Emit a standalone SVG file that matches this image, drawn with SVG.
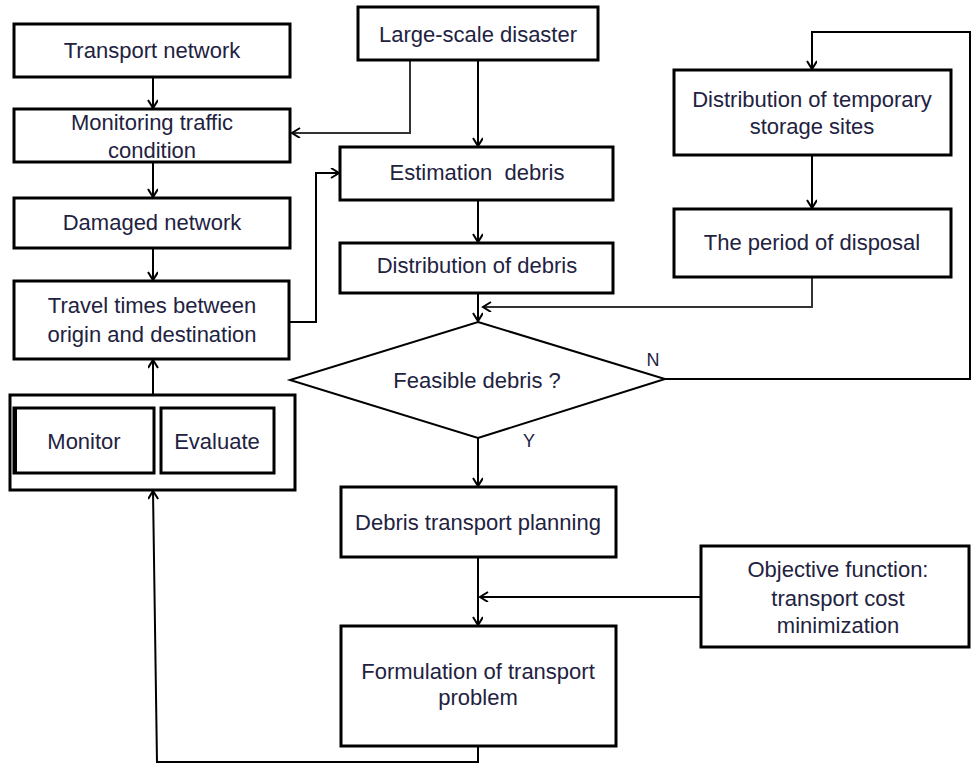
<svg xmlns="http://www.w3.org/2000/svg" width="972" height="764" viewBox="0 0 972 764">
<style>
.box{fill:#fff;stroke:#000;stroke-width:3}
.dia{fill:#fff;stroke:#000;stroke-width:2}
.t{font-family:"Liberation Sans",Arial,sans-serif;font-size:22px;fill:#22223f;text-anchor:middle}
.c{fill:none;stroke:#000;stroke-width:2;marker-end:url(#a)}
.g{stroke:#333}
</style>
<defs>
<marker id="a" markerWidth="12" markerHeight="12" refX="9" refY="5" orient="auto" markerUnits="userSpaceOnUse">
<path d="M1,0 L9,5 L1,10" fill="none" stroke="#000" stroke-width="2"/>
</marker>
</defs>
<rect width="972" height="764" fill="#fff"/>
<g id="connectors">
<path class="c" d="M153,77 V108"/>
<path class="c" d="M153,162 V197"/>
<path class="c" d="M153,248 V280"/>
<path class="c" d="M153,395 V360"/>
<path class="c g" d="M410,60 V133 H292"/>
<path class="c" d="M289,322 H316 V173 H339"/>
<path class="c" d="M478,60 V146"/>
<path class="c" d="M478,200 V242"/>
<path class="c" d="M478,293 V321"/>
<path class="c g" d="M812,277 V307 H483"/>
<path class="c" d="M665,379 H970 V32 H812 V69"/>
<path class="c" d="M812,155 V208"/>
<path class="c" d="M478,438 V486"/>
<path class="c" d="M478,557 V625"/>
<path class="c" d="M701,597 H480"/>
<path class="c" d="M478,746 V762 H157 L153,491"/>
</g>
<g id="transport-network"><rect class="box" x="14" y="24" width="276" height="53"/><text class="t" x="152" y="58">Transport network</text></g>
<g id="monitoring-traffic"><rect class="box" x="14" y="109" width="276" height="53"/><text class="t" x="152" y="130">Monitoring traffic</text><text class="t" x="152" y="158">condition</text></g>
<g id="damaged-network"><rect class="box" x="14" y="198" width="276" height="50"/><text class="t" x="152" y="230">Damaged network</text></g>
<g id="travel-times"><rect class="box" x="14" y="281" width="275" height="78"/><text class="t" x="152" y="313">Travel times between</text><text class="t" x="152" y="342">origin and destination</text></g>
<g id="monitor-evaluate"><rect class="box" x="10" y="395" width="285" height="95"/>
<g id="monitor"><rect class="box" x="14" y="408" width="140" height="65"/><line x1="15" y1="408" x2="15" y2="473" stroke="#000" stroke-width="4"/><text class="t" x="84" y="449">Monitor</text></g>
<g id="evaluate"><rect class="box" x="161" y="408" width="113" height="65"/><text class="t" x="217" y="449">Evaluate</text></g>
</g>
<g id="large-scale-disaster"><rect class="box" x="358" y="7" width="240" height="53"/><text class="t" x="478" y="42">Large-scale disaster</text></g>
<g id="estimation-debris"><rect class="box" x="340" y="147" width="273" height="53"/><text class="t" x="477" y="180" xml:space="preserve">Estimation  debris</text></g>
<g id="distribution-debris"><rect class="box" x="340" y="243" width="273" height="50"/><text class="t" x="477" y="273">Distribution of debris</text></g>
<g id="temporary-storage"><rect class="box" x="674" y="70" width="277" height="85"/><text class="t" x="812" y="107">Distribution of temporary</text><text class="t" x="812" y="134">storage sites</text></g>
<g id="period-disposal"><rect class="box" x="674" y="209" width="277" height="68"/><text class="t" x="812" y="250">The period of disposal</text></g>
<g id="feasible-debris"><polygon class="dia" points="478,322 665,379 478,438 290,380"/><text class="t" x="477" y="388">Feasible debris ?</text>
<text class="t" x="653" y="366" style="font-size:18px">N</text><text class="t" x="529" y="447" style="font-size:18px">Y</text></g>
<g id="debris-transport-planning"><rect class="box" x="341" y="487" width="275" height="70"/><text class="t" x="478" y="530">Debris transport planning</text></g>
<g id="objective-function"><rect class="box" x="701" y="546" width="268" height="101"/><text class="t" x="838" y="577">Objective function:</text><text class="t" x="838" y="606">transport cost</text><text class="t" x="838" y="633">minimization</text></g>
<g id="formulation"><rect class="box" x="341" y="626" width="275" height="120"/><text class="t" x="478" y="679">Formulation of transport</text><text class="t" x="478" y="705">problem</text></g>
</svg>
